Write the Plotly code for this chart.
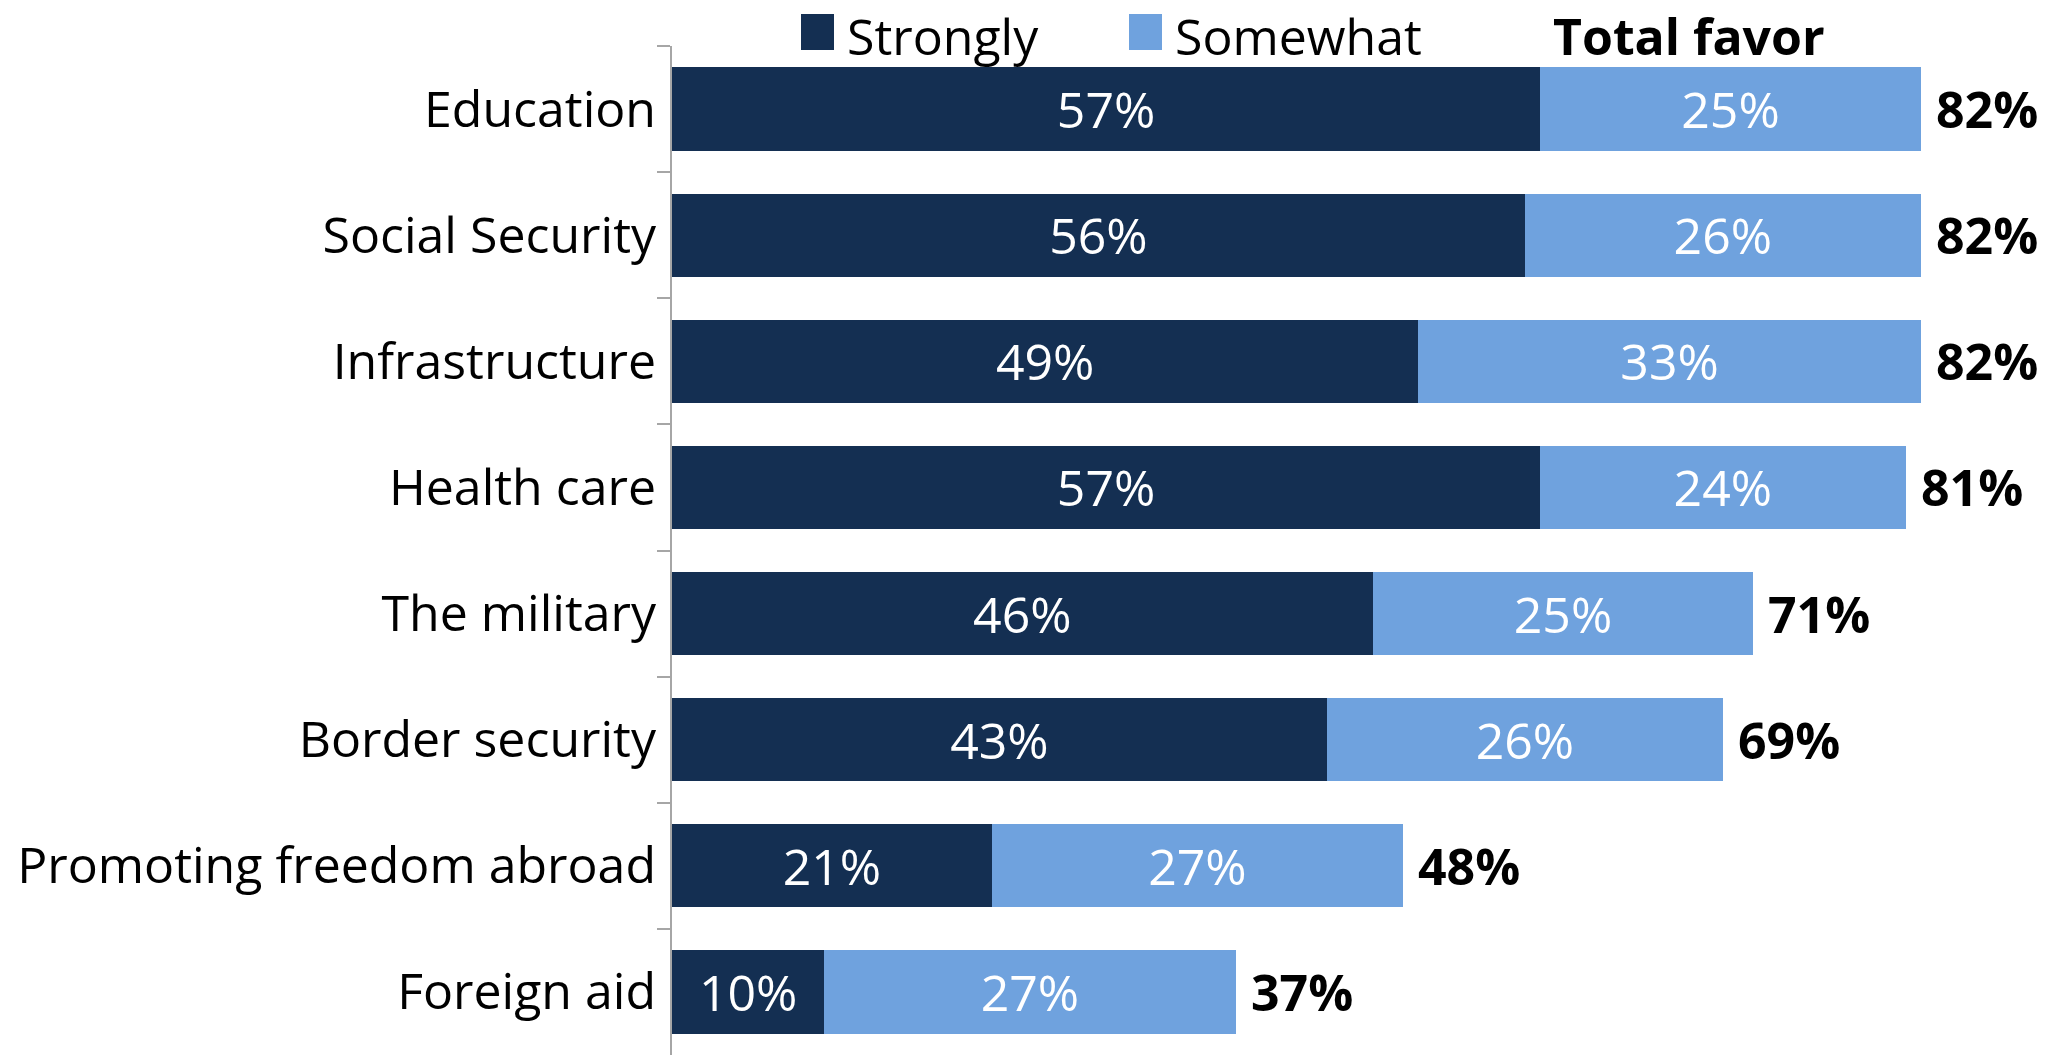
import plotly.graph_objects as go

categories = ["Education", "Social Security", "Infrastructure", "Health care",
              "The military", "Border security", "Promoting freedom abroad", "Foreign aid"]
strongly = [57, 56, 49, 57, 46, 43, 21, 10]
somewhat = [25, 26, 33, 24, 25, 26, 27, 27]
total = [82, 82, 82, 81, 71, 69, 48, 37]
legend_labels = ["Strongly", "Somewhat", "Total favor"]

DARK = "#142F52"
LIGHT = "#6FA2DE"
FONT = "Open Sans"
FS = 50

fig = go.Figure()
fig.add_trace(go.Bar(
    y=categories, x=strongly, orientation="h", name=legend_labels[0],
    marker=dict(color=DARK, line=dict(width=0)),
    text=[f"{v}%" for v in strongly], textposition="inside",
    insidetextanchor="middle", textangle=0, constraintext="none",
    textfont=dict(color="white", size=FS, family=FONT),
    showlegend=False,
))
fig.add_trace(go.Bar(
    y=categories, x=somewhat, orientation="h", name=legend_labels[1],
    marker=dict(color=LIGHT, line=dict(width=0)),
    text=[f"{v}%" for v in somewhat], textposition="inside",
    insidetextanchor="middle", textangle=0, constraintext="none",
    textfont=dict(color="white", size=FS, family=FONT),
    showlegend=False,
))

for c, t in zip(categories, total):
    fig.add_annotation(x=t, y=c, xref="x", yref="y", text=f"<b>{t}%</b>",
                       showarrow=False, xanchor="left", xshift=13,
                       font=dict(size=FS, color="black", family=FONT))

# legend (manual)
L = 672
T = 46
H = 1055 - T
W = 2059 - L
def px2x(px):
    return (px - L) / W
def px2y(py):
    return 1.0 + (T - py) / H

for x0, col in [(801, DARK), (1129, LIGHT)]:
    fig.add_shape(type="rect", xref="paper", yref="paper",
                  x0=px2x(x0), x1=px2x(x0 + 33), y0=px2y(50), y1=px2y(14),
                  fillcolor=col, line=dict(width=0))
for xp, txt in [(845, legend_labels[0]), (1173, legend_labels[1]), (1551, f"<b>{legend_labels[2]}</b>")]:
    fig.add_annotation(xref="paper", yref="paper", x=px2x(xp), y=px2y(0), text=txt,
                       showarrow=False, xanchor="left", yanchor="top",
                       font=dict(size=FS, color="black", family=FONT))

fig.update_layout(
    width=2059, height=1055,
    margin=dict(l=L, r=0, t=T, b=0, pad=0),
    barmode="stack", bargap=0.34,
    plot_bgcolor="white", paper_bgcolor="white",
    font=dict(family=FONT, size=FS, color="black"),
)
fig.update_xaxes(range=[0, W / 15.23], visible=False, showgrid=False, zeroline=False)
fig.update_yaxes(categoryorder="array", categoryarray=categories, autorange="reversed",
                 showline=True, linecolor="#A6A6A6", linewidth=2,
                 ticks="outside", tickson="boundaries", ticklen=13, tickwidth=2, tickcolor="#A6A6A6",
                 ticklabelstandoff=4,
                 showgrid=False, tickfont=dict(size=FS, family=FONT, color="black"))

fig.write_html("out.html", config={"displayModeBar": False},
               post_script="document.body.style.margin='0';document.body.style.overflow='hidden';")
